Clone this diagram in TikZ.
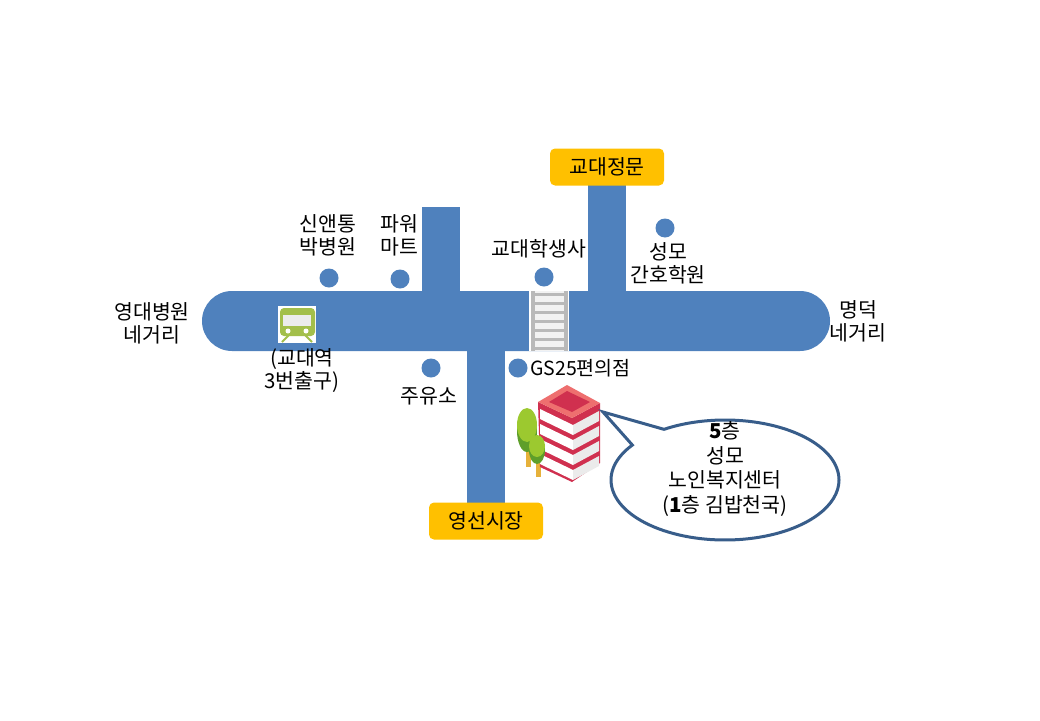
\documentclass[tikz,border=0pt]{standalone}
\usepackage{fontspec}
\setmainfont{Noto Sans CJK KR}
\usetikzlibrary{shapes.callouts}
\definecolor{roadblue}{HTML}{4F81BD}
\definecolor{gateorange}{HTML}{FFC000}
\definecolor{bubbleline}{HTML}{385D8A}
\definecolor{trainfill}{HTML}{A3BF4B}
\definecolor{buildred}{HTML}{D0304F}
\definecolor{buildedge}{HTML}{EE6F6F}
\definecolor{leaflight}{HTML}{9CC92F}
\definecolor{leafdark}{HTML}{5E9F2A}
\definecolor{trunk}{HTML}{E6B13A}
\tikzstyle{road} = [fill=roadblue]
\tikzstyle{place} = [align=center, font=\fontsize{20.5}{23}\selectfont, inner sep=0pt]
\tikzstyle{spot} = [circle, fill=roadblue, minimum size=19pt, inner sep=0pt]
\tikzstyle{gate} = [rectangle, rounded corners=5pt, minimum width=114pt, minimum height=37pt, fill=gateorange, font=\fontsize{20.5}{23}\selectfont, inner sep=0pt]
\tikzstyle{bubble} = [ellipse callout, draw=bubbleline, line width=3pt, fill=white, minimum width=228pt, minimum height=120pt, callout pointer arc=22, inner sep=0pt]
\begin{document}
\begin{tikzpicture}[x=1pt, y=-1pt]
        \useasboundingbox (0,0) rectangle (1040,720);

        % roads
        \fill [road] (422,207) rectangle (460,300);
        \fill [road] (588,185) rectangle (626,300);
        \fill [road] (467,340) rectangle (505,503);
        \fill [road, rounded corners=30pt] (202,291) rectangle (830,351);

        % crossing
        \fill [white] (529,291) rectangle (569,351);
        \fill [gray!10] (535,291) rectangle (564,351);
        \fill [gray!55] (531,291) rectangle (535,351);
        \fill [gray!55] (564,291) rectangle (568,351);
        \foreach \y in {293,302,311,320,329,338,347}
            \fill [gray!55] (535,\y) rectangle (564,\y+2.5);

        % train
        \fill [white] (278,306) rectangle (316,343);
        \fill [trainfill, rounded corners=4pt] (280,308) rectangle (315,336);
        \fill [gray!15] (283,315) rectangle (311,326);
        \fill [white] (288,331) circle (2.5pt);
        \fill [white] (306,331) circle (2.5pt);
        \draw [trainfill, line width=2pt] (289,335) -- (282,342);
        \draw [trainfill, line width=2pt] (305,335) -- (312,342);

        % trees
        \fill [trunk] (526,445) rectangle (531,467);
        \fill [trunk] (536,460) rectangle (541,477);
        \fill [leafdark] (527,431) ellipse (10pt and 21pt);
        \fill [leaflight] (527,425) ellipse (10pt and 17pt);

        % building
        \fill [buildred] (538,402) -- (572,418) -- (600,403) -- (600,463) -- (572,482) -- (540,467) -- cycle;
        \foreach \i in {0,1,2,3} {
            \fill [white] (540,\i*15+409) -- (573,\i*15+425) -- (573,\i*15+435) -- (540,\i*15+419) -- cycle;
            \fill [white!92!black] (573,\i*15+425) -- (599,\i*15+411) -- (599,\i*15+421) -- (573,\i*15+435) -- cycle;
        }
        \fill [buildedge] (567,385) -- (538,402) -- (572,418) -- (600,403) -- cycle;
        \fill [buildred] (567,391) -- (549,402) -- (572,412) -- (590,402) -- cycle;

        % front tree
        \fill [leafdark] (537,450) ellipse (8pt and 14pt);
        \fill [leaflight] (537,446) ellipse (8pt and 11pt);

        \node (sinaen) [spot] at (329,278) {};
        \node (power) [spot] at (400,279) {};
        \node (dorm) [spot] at (544,277) {};
        \node (nursing) [spot] at (665,228) {};
        \node (gas) [spot] at (431,368) {};
        \node (gs) [spot] at (518,368) {};

        \node (sinaenlabel) [place] at (328,235) {신앤통\\박병원};
        \node (powerlabel) [place] at (399,235) {파워\\마트};
        \node (dormlabel) [place] at (539,249) {교대학생사};
        \node (nursinglabel) [place] at (668,263) {성모\\간호학원};
        \node (westlabel) [place] at (152,323) {영대병원\\네거리};
        \node (eastlabel) [place] at (858,321) {명덕\\네거리};
        \node (stationlabel) [place] at (302,371) {(교대역\\3번출구)};
        \node (gaslabel) [place] at (429,396) {주유소};
        \node (gslabel) [place, anchor=west, font=\fontsize{19.5}{23}\selectfont] at (530,368) {GS25편의점};

        \node (schoolgate) [gate] at (607,167) {교대정문};
        \node (market) [gate] at (486,521) {영선시장};

        \node (bubble1) [bubble, callout absolute pointer={(603,412)}] at (725,480) {};
        \node (bubbletext) [place, font=\fontsize{20.5}{24.5}\selectfont] at (725,469) {\textbf{5}층\\성모\\노인복지센터\\(\textbf{1}층 김밥천국)};

        \end{tikzpicture}
\end{document}
